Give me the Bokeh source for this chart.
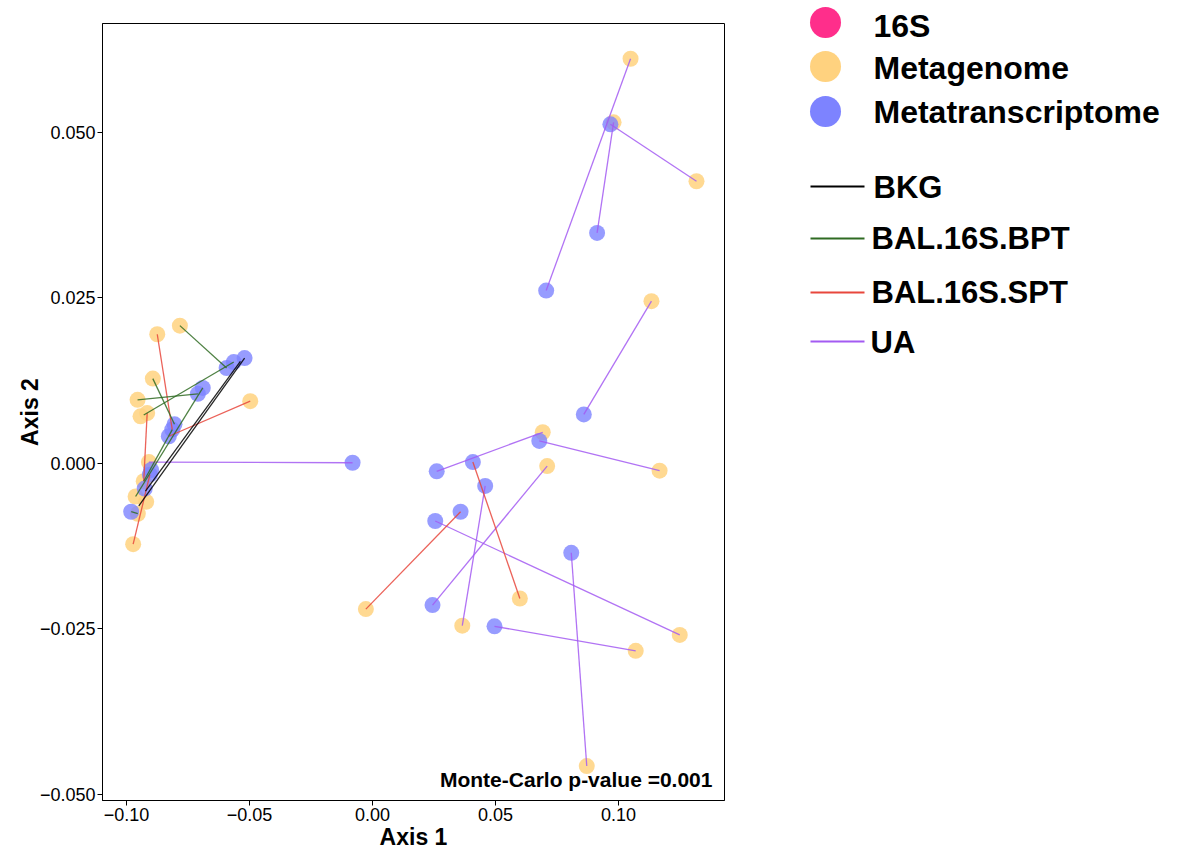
from bokeh.plotting import figure
from bokeh.layouts import row
from bokeh.models import Range1d, FixedTicker, Label, ColumnDataSource
from bokeh.embed import file_html
from bokeh.resources import INLINE
from bokeh.core.properties import value

FONT = "Liberation Sans"

# ---------------- data ----------------
metagenome_x = [0.1049, 0.0980, 0.1317, 0.1134, 0.0692, 0.0710, 0.1167, 0.0599, -0.0027,
                0.0365, 0.1249, 0.1070, 0.0871,
                -0.0783, -0.0875, -0.0893, -0.0955, -0.0497, -0.0916, -0.0943, -0.0909,
                -0.0930, -0.0963, -0.0920, -0.0954, -0.0973]
metagenome_y = [0.0611, 0.0515, 0.0426, 0.0245, 0.0047, -0.0004, -0.0011, -0.0204, -0.0220,
                -0.0245, -0.0259, -0.0283, -0.0457,
                0.0208, 0.0195, 0.0128, 0.0096, 0.0094, 0.0076, 0.0071, 0.0002,
                -0.0027, -0.0050, -0.0058, -0.0076, -0.0122]

metatrans_x = [0.0967, 0.0913, 0.0706, 0.0859, 0.0678, -0.0081, 0.0261, 0.0408, 0.0458,
               0.0358, 0.0255, 0.0808, 0.0244, 0.0496,
               -0.0520, -0.0564, -0.0593, -0.0690, -0.0710, -0.0805, -0.0814, -0.0828,
               -0.0900, -0.0905, -0.0926, -0.0981]
metatrans_y = [0.0512, 0.0348, 0.0261, 0.0074, 0.0034, 0.0001, -0.0012, 0.0002, -0.0034,
               -0.0073, -0.0087, -0.0135, -0.0214, -0.0246,
               0.0159, 0.0153, 0.0144, 0.0114, 0.0105, 0.0059, 0.0051, 0.0041,
               -0.0010, -0.0017, -0.0038, -0.0073]

# connecting segments per group
seg_group = (["UA"] * 12 + ["BAL.16S.SPT"] * 6 + ["BAL.16S.BPT"] * 7 + ["BKG"] * 2)
seg_x0 = [0.1049, 0.0967, 0.0980, 0.0859, 0.0261, 0.0678, 0.0458, 0.0710, 0.0255, 0.0496, 0.0808, -0.0081,
          0.0408, 0.0358, -0.0875, -0.0497, -0.0916, -0.0973,
          -0.0783, -0.0893, -0.0955, -0.0930, -0.0690, -0.0814, -0.0981,
          -0.0520, -0.0537]
seg_y0 = [0.0611, 0.0512, 0.0515, 0.0074, -0.0012, 0.0034, -0.0034, -0.0004, -0.0087, -0.0246, -0.0135, 0.0001,
          0.0002, -0.0073, 0.0195, 0.0094, 0.0076, -0.0122,
          0.0208, 0.0128, 0.0096, 0.0073, 0.0114, 0.0051, -0.0073,
          0.0159, 0.0154]
seg_x1 = [0.0706, 0.1317, 0.0913, 0.1134, 0.0692, 0.1167, 0.0365, 0.0244, 0.1249, 0.1070, 0.0871, -0.0909,
          0.0599, -0.0027, -0.0814, -0.0828, -0.0930, -0.0905,
          -0.0593, -0.0805, -0.0710, -0.0564, -0.0963, -0.0930, -0.0954,
          -0.0950, -0.0923]
seg_y1 = [0.0261, 0.0426, 0.0348, 0.0245, 0.0047, -0.0011, -0.0245, -0.0214, -0.0259, -0.0283, -0.0457, 0.0002,
          -0.0204, -0.0220, 0.0051, 0.0041, -0.0027, -0.0017,
          0.0144, 0.0059, 0.0105, 0.0153, -0.0050, -0.0027, -0.0076,
          -0.0064, -0.0042]

point_types = ["16S", "Metagenome", "Metatranscriptome"]
point_colors = ["#FF2E8B", "#FFD27F", "#7D83FF"]
line_groups = ["BKG", "BAL.16S.BPT", "BAL.16S.SPT", "UA"]
line_colors = ["#000000", "#2F6B22", "#E8473C", "#A35BF2"]

x_ticks = [-0.10, -0.05, 0.00, 0.05, 0.10]
x_tick_labels = ["\u22120.10", "\u22120.05", "0.00", "0.05", "0.10"]
y_ticks = [-0.050, -0.025, 0.000, 0.025, 0.050]
y_tick_labels = ["\u22120.050", "\u22120.025", "0.000", "0.025", "0.050"]

annotation = "Monte-Carlo p-value =0.001"

# ---------------- main plot ----------------
P_W, H = 740, 852
p = figure(width=P_W, height=H, output_backend="svg", toolbar_location=None,
           x_range=Range1d(-0.10976, 0.14309), y_range=Range1d(-0.0509, 0.06642),
           min_border_left=102, min_border_right=16, min_border_top=23, min_border_bottom=50)
p.frame_align = False
p.background_fill_color = "white"
p.border_fill_color = "white"
p.outline_line_color = "black"
p.outline_line_width = 1
p.grid.visible = False

pcol = dict(zip(point_types, point_colors))
p.scatter(metagenome_x, metagenome_y, size=16, fill_color=pcol["Metagenome"], fill_alpha=0.85,
          line_color=None)
p.scatter(metatrans_x, metatrans_y, size=16, fill_color=pcol["Metatranscriptome"], fill_alpha=0.8,
          line_color=None)

lcol = dict(zip(line_groups, line_colors))
src = ColumnDataSource(dict(x0=seg_x0, y0=seg_y0, x1=seg_x1, y1=seg_y1,
                            c=[lcol[g] for g in seg_group]))
p.segment("x0", "y0", "x1", "y1", source=src, line_color="c", line_width=1.3, line_alpha=0.85)

for ax, ticks, labels, lab, st in ((p.xaxis[0], x_ticks, x_tick_labels, "Axis 1", 0),
                                   (p.yaxis[0], y_ticks, y_tick_labels, "Axis 2", -6)):
    ax.ticker = FixedTicker(ticks=ticks)
    ax.major_label_overrides = {t: l for t, l in zip(ticks, labels)}
    ax.minor_tick_line_color = None
    ax.major_tick_in = 0
    ax.major_tick_out = 5
    ax.major_tick_line_color = "black"
    ax.axis_line_color = "black"
    ax.major_label_text_font = FONT
    ax.major_label_text_font_size = "18px"
    ax.major_label_text_color = "black"
    ax.major_label_standoff = 2
    ax.axis_label = lab
    ax.axis_label_text_font = FONT
    ax.axis_label_text_font_style = "bold"
    ax.axis_label_text_font_size = "23px"
    ax.axis_label_text_color = "black"
    ax.axis_label_standoff = st

p.add_layout(Label(x=0.1382, y=-0.0477, text=annotation, text_align="right",
                   text_baseline="alphabetic", text_font=FONT, text_font_style="bold",
                   text_font_size="21px", text_color="black"))

# ---------------- legend panel ----------------
# page-pixel coordinate system for the legend panel (y downward)
L_W = 1182 - P_W
lg = figure(width=L_W, height=H, output_backend="svg", toolbar_location=None,
            x_range=Range1d(P_W, P_W + L_W), y_range=Range1d(H, 0),
            min_border=0, min_border_left=0, min_border_right=0, min_border_top=0,
            min_border_bottom=0, outline_line_color=None)
lg.frame_align = False
lg.axis.visible = False
lg.grid.visible = False

pt_y = [22, 66, 111]
pt_text_y = [25, 67, 111]
lg.scatter([825] * 3, pt_y, size=31, fill_color=point_colors, line_color=None)
lg.text([873] * 3, pt_text_y, text=point_types, text_font=value(FONT), text_font_style="bold",
        text_font_size="32px", text_baseline="alphabetic", text_color="black")

ln_y = [186, 238, 292, 341]
ln_text_y = [187, 238, 292, 342]
lg.segment([810] * 4, ln_y, [864] * 4, ln_y, line_color=line_colors, line_width=2.2)
lg.text([873, 871, 871, 870], ln_text_y, text=line_groups, text_font=value(FONT),
        text_font_style="bold", text_font_size="31px", text_baseline="alphabetic",
        text_color="black")

layout = row(p, lg, spacing=0)
open("out.html", "w").write(file_html(layout, INLINE))
